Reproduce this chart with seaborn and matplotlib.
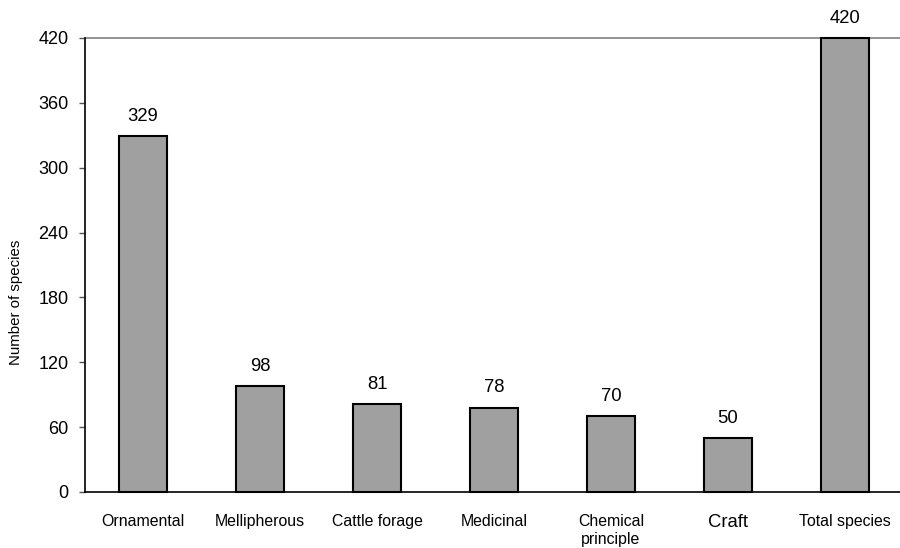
import matplotlib
matplotlib.use("Agg")
import matplotlib.pyplot as plt
import seaborn as sns
import pandas as pd

categories = ["Ornamental", "Mellipherous", "Cattle forage", "Medicinal",
              "Chemical\nprinciple", "Craft", "Total species"]
species_counts = [329, 98, 81, 78, 70, 50, 420]
y_ticks = [0, 60, 120, 180, 240, 300, 360, 420]

sns.set_theme(style="white")
plt.rcParams["font.family"] = ["Liberation Sans", "DejaVu Sans"]

df = pd.DataFrame({"use": categories, "species": species_counts})

fig = plt.figure(figsize=(9.0, 5.48), dpi=100)
ax = fig.add_axes([84.5 / 900, 1 - 492 / 548, 819 / 900, 454 / 548])

sns.barplot(data=df, x="use", y="species", color="#A0A0A0", saturation=1,
            edgecolor="black", linewidth=1.5, width=0.41, ax=ax)
for patch in ax.patches:
    patch.set_clip_on(False)
    patch.set_zorder(3)

ax.set_ylim(0, 420)
ax.set_xlim(-0.5, len(categories) - 0.5)
ax.set_yticks(y_ticks)
ax.set_yticklabels([str(t) for t in y_ticks], fontsize=13)

# top reference line of the plot area
ax.axhline(420, color="#808080", lw=1.2, zorder=2, clip_on=False)

for spine in ["top", "right"]:
    ax.spines[spine].set_visible(False)
for spine in ["left", "bottom"]:
    ax.spines[spine].set_color("black")
    ax.spines[spine].set_linewidth(1.2)

ax.tick_params(axis="y", which="major", left=True, length=4.5, width=1,
               color="#555555", pad=7, labelcolor="black")
ax.tick_params(axis="x", length=0, pad=16, labelcolor="black")

for lbl in ax.get_xticklabels():
    lbl.set_fontsize(13.3 if lbl.get_text() == "Craft" else 11.4)

for i, v in enumerate(species_counts):
    ax.annotate(str(v), xy=(i, v), xytext=(0, 11), textcoords="offset points",
                ha="center", va="baseline", fontsize=13.3, color="black",
                annotation_clip=False)

ax.set_xlabel("")
ax.set_ylabel("Number of species", fontsize=10.8, color="black")
ax.yaxis.set_label_coords(-0.075, (492 - 302) / 454)

fig.savefig("out.png", dpi=100)
